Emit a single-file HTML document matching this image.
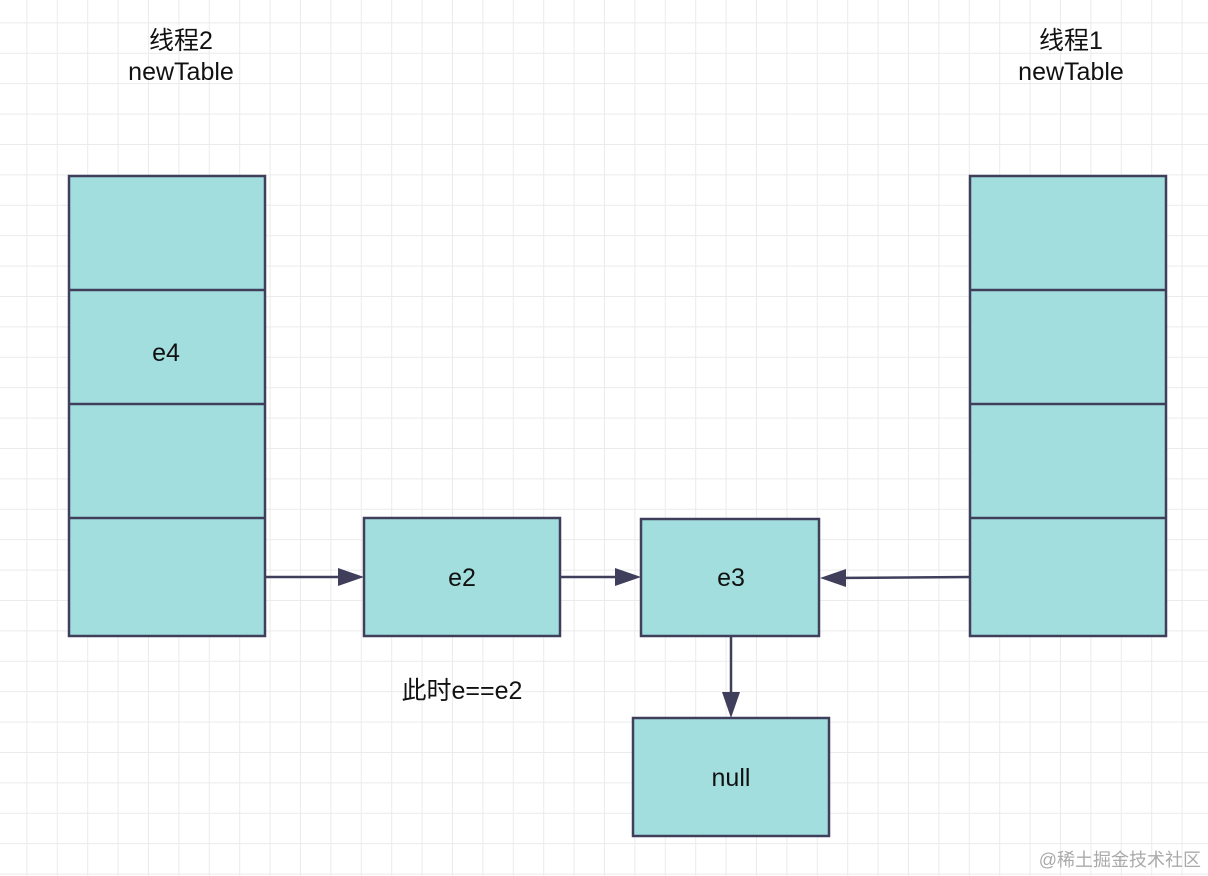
<!DOCTYPE html>
<html><head><meta charset="utf-8"><style>
body{margin:0;width:1208px;height:876px;overflow:hidden;background:#fff;}
svg{display:block}
text{font-family:"Liberation Sans","Noto Sans CJK SC",sans-serif;fill:#111;}
</style></head><body>
<svg width="1208" height="876" xmlns="http://www.w3.org/2000/svg">
<defs>
<pattern id="g" x="-3" y="-7" width="30.4" height="30.4" patternUnits="userSpaceOnUse">
<path d="M30.4 0V30.4M0 30.4H30.4" stroke="#ebebeb" stroke-width="2" fill="none"/>
</pattern>
</defs>
<rect width="1208" height="876" fill="url(#g)"/>
<g fill="#a3dede" stroke="#3f3f5c" stroke-width="2.5">
<rect x="69" y="176" width="196" height="460"/>
<rect x="970" y="176" width="196" height="460"/>
<rect x="364" y="518" width="196" height="118"/>
<rect x="641" y="519" width="178" height="117"/>
<rect x="633" y="718" width="196" height="118"/>
</g>
<g stroke="#3f3f5c" stroke-width="2.5">
<path d="M69 290H265M69 404H265M69 518H265M970 290H1166M970 404H1166M970 518H1166"/>
</g>
<g stroke="#3f3f5c" stroke-width="2.5" fill="none">
<path d="M266 577H350"/><path d="M561 577H628"/><path d="M969 577L832 578"/><path d="M731 637V705"/>
</g>
<g fill="#3f3f5c">
<path d="M338 568L364 577L338 586z"/>
<path d="M615 568L641 577L615 586z"/>
<path d="M846 569L820 578L846 587z"/>
<path d="M722 692L731 718L740 692z"/>
</g>
<g font-size="25" text-anchor="middle">
<text x="181" y="49">线程2</text><text x="181" y="80">newTable</text>
<text x="1071" y="49">线程1</text><text x="1071" y="80">newTable</text>
<text x="166" y="361">e4</text>
<text x="462" y="586">e2</text>
<text x="731" y="586">e3</text>
<text x="731" y="786">null</text>
<text x="462" y="699">此时e==e2</text>
</g>
<text x="1201" y="866" font-size="18" text-anchor="end" style="fill:#aaa">@稀土掘金技术社区</text>
</svg>
</body></html>
